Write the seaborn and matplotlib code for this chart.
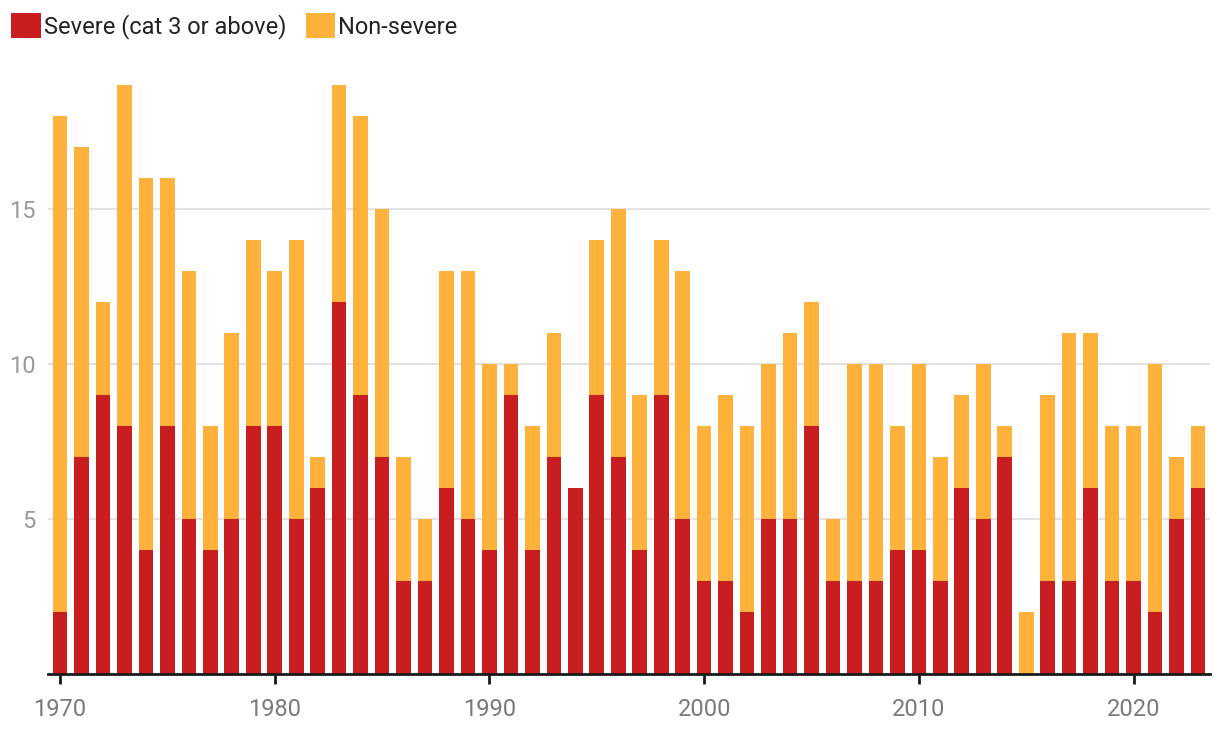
import matplotlib
matplotlib.use("Agg")
import matplotlib.pyplot as plt
import matplotlib.patches as mpatches
import seaborn as sns
import pandas as pd
import numpy as np

years = list(range(1970, 2024))
totals = [18, 17, 12, 19, 16, 16, 13, 8, 11, 14,
          13, 14, 7, 19, 18, 15, 7, 5, 13, 13,
          10, 10, 8, 11, 6, 14, 15, 9, 14, 13,
          8, 9, 8, 10, 11, 12, 5, 10, 10, 8,
          10, 7, 9, 10, 8, 2, 9, 11, 11, 8,
          8, 10, 7, 8]
severe = [2, 7, 9, 8, 4, 8, 5, 4, 5, 8,
          8, 5, 6, 12, 9, 7, 3, 3, 6, 5,
          4, 9, 4, 7, 6, 9, 7, 4, 9, 5,
          3, 3, 2, 5, 5, 8, 3, 3, 3, 4,
          4, 3, 6, 5, 7, 0, 3, 3, 6, 3,
          3, 2, 5, 6]
series_labels = ["Severe (cat 3 or above)", "Non-severe"]
colors = ["#c91e1f", "#feb23b"]
x_ticks = [1970, 1980, 1990, 2000, 2010, 2020]
y_ticks = [5, 10, 15]

df = pd.DataFrame({"year": years, "total": totals, "severe": severe})

sns.set_theme(style="white")
plt.rcParams["font.family"] = ["Roboto", "DejaVu Sans"]

W, H = 1220, 742
fig = plt.figure(figsize=(W / 100, H / 100), dpi=100)
ax = fig.add_axes([48 / W, (H - 674) / H, (1210 - 48) / W, (674 - 80) / H])

sns.barplot(data=df, x="year", y="total", native_scale=True, color=colors[1],
            width=0.68, saturation=1, ax=ax, zorder=2)
sns.barplot(data=df, x="year", y="severe", native_scale=True, color=colors[0],
            width=0.68, saturation=1, ax=ax, zorder=3)
for p in ax.patches:
    p.set_linewidth(0)

ax.set_xlim(1969.44, 2023.56)
ax.set_ylim(0, 19.16)
ax.set_xlabel("")
ax.set_ylabel("")

ax.set_yticks(y_ticks)
ax.set_yticklabels([str(v) for v in y_ticks])
ax.set_xticks(x_ticks)
ax.set_xticklabels([str(v) for v in x_ticks])

for s in ["top", "right", "left"]:
    ax.spines[s].set_visible(False)
ax.spines["bottom"].set_color("#1a1a1a")
ax.spines["bottom"].set_linewidth(2)
ax.spines["bottom"].set_zorder(5)

ax.yaxis.grid(True, color="#e3e3e3", linewidth=1.5, zorder=0)
ax.xaxis.grid(False)
ax.set_axisbelow(True)

ax.tick_params(axis="y", length=0, pad=9, labelsize=17, labelcolor="#9a9a9a")
ax.tick_params(axis="x", length=7, width=2, color="#1a1a1a", pad=10,
               labelsize=17, labelcolor="#7a7a7a", bottom=True, direction="out")

handles = [mpatches.Patch(facecolor=c, edgecolor="none", label=l)
           for c, l in zip(colors, series_labels)]
leg = fig.legend(handles=handles, loc="upper left", bbox_to_anchor=(2 / W, 1 - 4 / H),
                 ncol=2, frameon=False, fontsize=17, handlelength=1.25,
                 handleheight=1.25, handletextpad=0.13, columnspacing=0.82,
                 borderaxespad=0)
for t in leg.get_texts():
    t.set_color("#222222")

fig.savefig("out.png", dpi=100)
